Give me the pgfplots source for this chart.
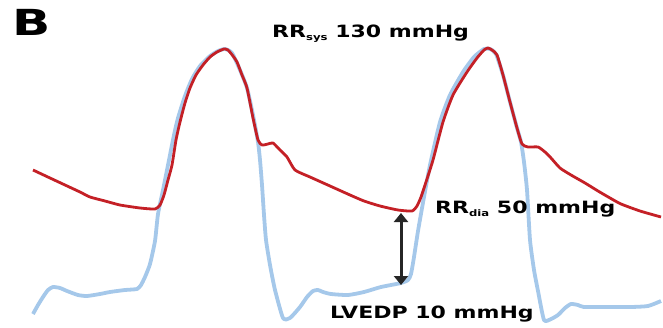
\documentclass[border=0pt]{standalone}
\usepackage{pgfplots}
\pgfplotsset{compat=1.18}
\usepackage{fontspec}
\setmainfont{DejaVu Sans}
\usetikzlibrary{arrows.meta}
\definecolor{artred}{RGB}{196,32,38}
\definecolor{lvblue}{RGB}{165,200,234}
\newcommand\lab[1]{\scalebox{1.3}[1]{\fontsize{17}{20}\selectfont\bfseries #1}}
\newcommand\sub[1]{\raisebox{-3.5pt}{\fontsize{9}{9}\selectfont\bfseries #1}}
\begin{document}
\begin{tikzpicture}
\begin{axis}[
  width=663bp, height=328bp, scale only axis,
  xmin=0, xmax=663, ymin=0, ymax=328, y dir=reverse,
  hide axis, clip=true,
]
\path (rel axis cs:0,0) rectangle (rel axis cs:1,1);
% LV pressure (blue)
\addplot[lvblue, line width=3.8bp, smooth, tension=0.35, line join=round] coordinates {
(33,314)(38,305)(43,297)(48,290)(53,287)(60,288)(67,291)(78,295)(87,296)(100,294)(110,292)(125,290)(137,289)(141,285)(145,277)(150,264)(155,241)(158,214)(163,190)(168,165)(174,135)(178,118)(185,96)(192,79)(200,66)(210,56)(218,51)(225,49)(232,53)(240,70)(247,88)(253,115)(258,142)(260,160)(262,185)(264,215)(266,240)(270,265)(275,290)(283,318)(290,318)(300,307)(307,297)(313,291)(318,290)(323,292)(331,294)(348,295)(364,292)(381,287)(401,283)(408,280)(411,274)(414,257)(418,231)(424,197)(430,165)(440,122)(450,95)(463,72)(474,57)(484,49)(490,49)(496,54)(503,75)(510,102)(517,128)(521,142)(524,162)(527,190)(530,240)(534,270)(538,291)(544,320)(551,319)(558,315)(565,308)(571,304)(578,305)(584,307)(608,307)(631,307)(648,306)(661,301)
};
% Arterial pressure (red)
\addplot[artred, line width=2.8bp, smooth, tension=0.35, line join=round] coordinates {
(33,170)(50,178)(65,185)(80,192)(90,197)(105,201)(120,205)(140,208)(155,209)(160,205)(164,195)(168,180)(172,165)(176,140)(180,122)(185,103)(190,88)(196,75)(203,65)(210,57)(217,52)(224,49)(228,50)(233,56)(237,62)(242,75)(247,88)(253,118)(258,140)(262,145)(268,144)(273,143)(280,150)(287,157)(295,170)(310,177)(330,186)(350,195)(364,201)(380,206)(398,210)(412,211)(417,206)(421,197)(426,182)(433,160)(443,122)(453,95)(467,72)(477,58)(484,50)(488,48)(492,50)(497,55)(503,75)(510,102)(517,128)(522,144)(528,147)(538,147)(545,152)(551,158)(560,168)(571,175)(585,183)(598,191)(610,198)(621,204)(640,211)(661,217)
};
% double arrow
\addplot[black!85, line width=3bp, {Triangle[width=14bp,length=9bp]}-{Triangle[width=14bp,length=9bp]}] coordinates {(401,213) (401,285)};
\node[anchor=base west, inner sep=0pt] at (axis cs:12,35) {\scalebox{1.4}[1]{\fontsize{36}{40}\selectfont\bfseries B}};
\node[anchor=base west, inner sep=0pt] at (axis cs:272,37) {\lab{RR\sub{sys} 130 mmHg}};
\node[anchor=base west, inner sep=0pt] at (axis cs:435,213) {\lab{RR\sub{dia} 50 mmHg}};
\node[anchor=base west, inner sep=0pt] at (axis cs:330,318) {\lab{LVEDP 10 mmHg}};
\end{axis}
\end{tikzpicture}
\end{document}
